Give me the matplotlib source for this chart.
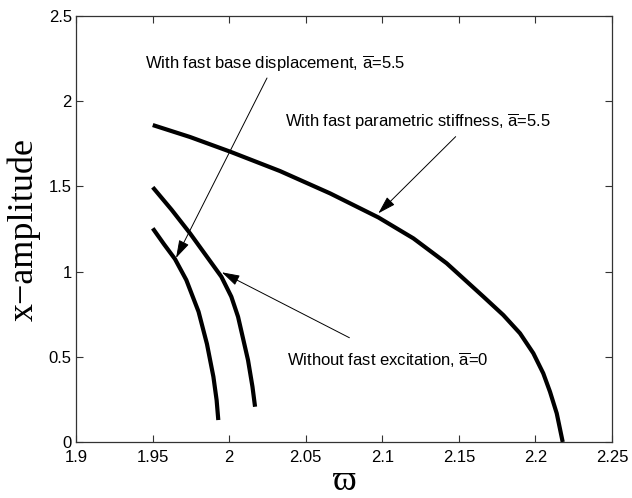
import numpy as np
import matplotlib
matplotlib.use('Agg')
import matplotlib.pyplot as plt

plt.rcParams['font.family'] = ['Liberation Sans', 'DejaVu Sans']
plt.rcParams['mathtext.fontset'] = 'custom'
plt.rcParams['mathtext.rm'] = 'Liberation Sans'
plt.rcParams['mathtext.sf'] = 'Liberation Sans'

# curve: fast base displacement, a=5.5
w_base = [1.9501, 1.9575, 1.9646, 1.9720, 1.9800, 1.9855, 1.9897, 1.9918, 1.9929]
x_base = [1.254, 1.160, 1.074, 0.951, 0.765, 0.575, 0.383, 0.246, 0.129]

# without fast excitation, a=0
w_none = [1.9501, 1.9625, 1.9744, 1.9949, 2.0014, 2.0058, 2.0123, 2.0152, 2.0169]
x_none = [1.495, 1.362, 1.225, 0.970, 0.853, 0.735, 0.481, 0.325, 0.207]

# fast parametric stiffness, a=5.5
w_par = [1.9501, 1.9744, 2.0006, 2.0332, 2.0659, 2.0974, 2.1203, 2.1420, 2.1529,
         2.1660, 2.1790, 2.1899, 2.1986, 2.2051, 2.2095, 2.2139, 2.2178]
x_par = [1.860, 1.790, 1.704, 1.590, 1.459, 1.318, 1.195, 1.049, 0.960,
         0.853, 0.745, 0.638, 0.521, 0.403, 0.295, 0.168, 0.0]

xticks = [1.9, 1.95, 2.0, 2.05, 2.1, 2.15, 2.2, 2.25]
xticklabels = ['1.9', '1.95', '2', '2.05', '2.1', '2.15', '2.2', '2.25']
yticks = [0, 0.5, 1, 1.5, 2, 2.5]
yticklabels = ['0', '0.5', '1', '1.5', '2', '2.5']

# (text, text position, arrow tail, arrow tip)
notes = [
    (r'With fast base displacement, $\overline{\mathrm{a}}$=5.5', (2.030, 2.22), (2.0247, 2.136), (1.9653, 1.080)),
    (r'With fast parametric stiffness, $\overline{\mathrm{a}}$=5.5', (2.123, 1.88), (2.1479, 1.792), (2.0974, 1.342)),
    (r'Without fast excitation, $\overline{\mathrm{a}}$=0', (2.1034, 0.48), (2.0785, 0.612), (1.9952, 0.996)),
]

fig = plt.figure(figsize=(6.32, 4.98), dpi=100)
ax = fig.add_axes([0.1203, 0.1124, 0.8481, 0.8555])

for w, x in [(w_base, x_base), (w_none, x_none), (w_par, x_par)]:
    ax.plot(w, x, '-', color='k', lw=3, solid_capstyle='butt', solid_joinstyle='round')

for txt, pos, tail, tip in notes:
    ax.annotate('', xy=tip, xytext=tail,
                arrowprops=dict(arrowstyle='-|>,head_length=1.1,head_width=0.33',
                                color='k', lw=0.7, shrinkA=0, shrinkB=0))
    ax.text(pos[0], pos[1], txt, fontsize=12, ha='center', va='center')

ax.set_xlim([1.9, 2.25])
ax.set_ylim([0, 2.5])
ax.set_xticks(xticks)
ax.set_xticklabels(xticklabels)
ax.set_yticks(yticks)
ax.set_yticklabels(yticklabels)
ax.tick_params(axis='both', which='major', labelsize=12, direction='in',
               top=True, right=True, length=5, width=0.8, colors='#333333',
               labelcolor='k')
ax.tick_params(axis='x', pad=6)
ax.tick_params(axis='y', pad=3)
for s in ax.spines.values():
    s.set_linewidth(0.9)
    s.set_color('#333333')

ax.set_ylabel('x\u2212amplitude', fontsize=26, family=['Liberation Serif', 'DejaVu Serif'], labelpad=6)
ax.set_xlabel('\u03d6', fontsize=26, family=['Liberation Serif', 'DejaVu Serif'], labelpad=0)

plt.savefig('out.png', dpi=100)
